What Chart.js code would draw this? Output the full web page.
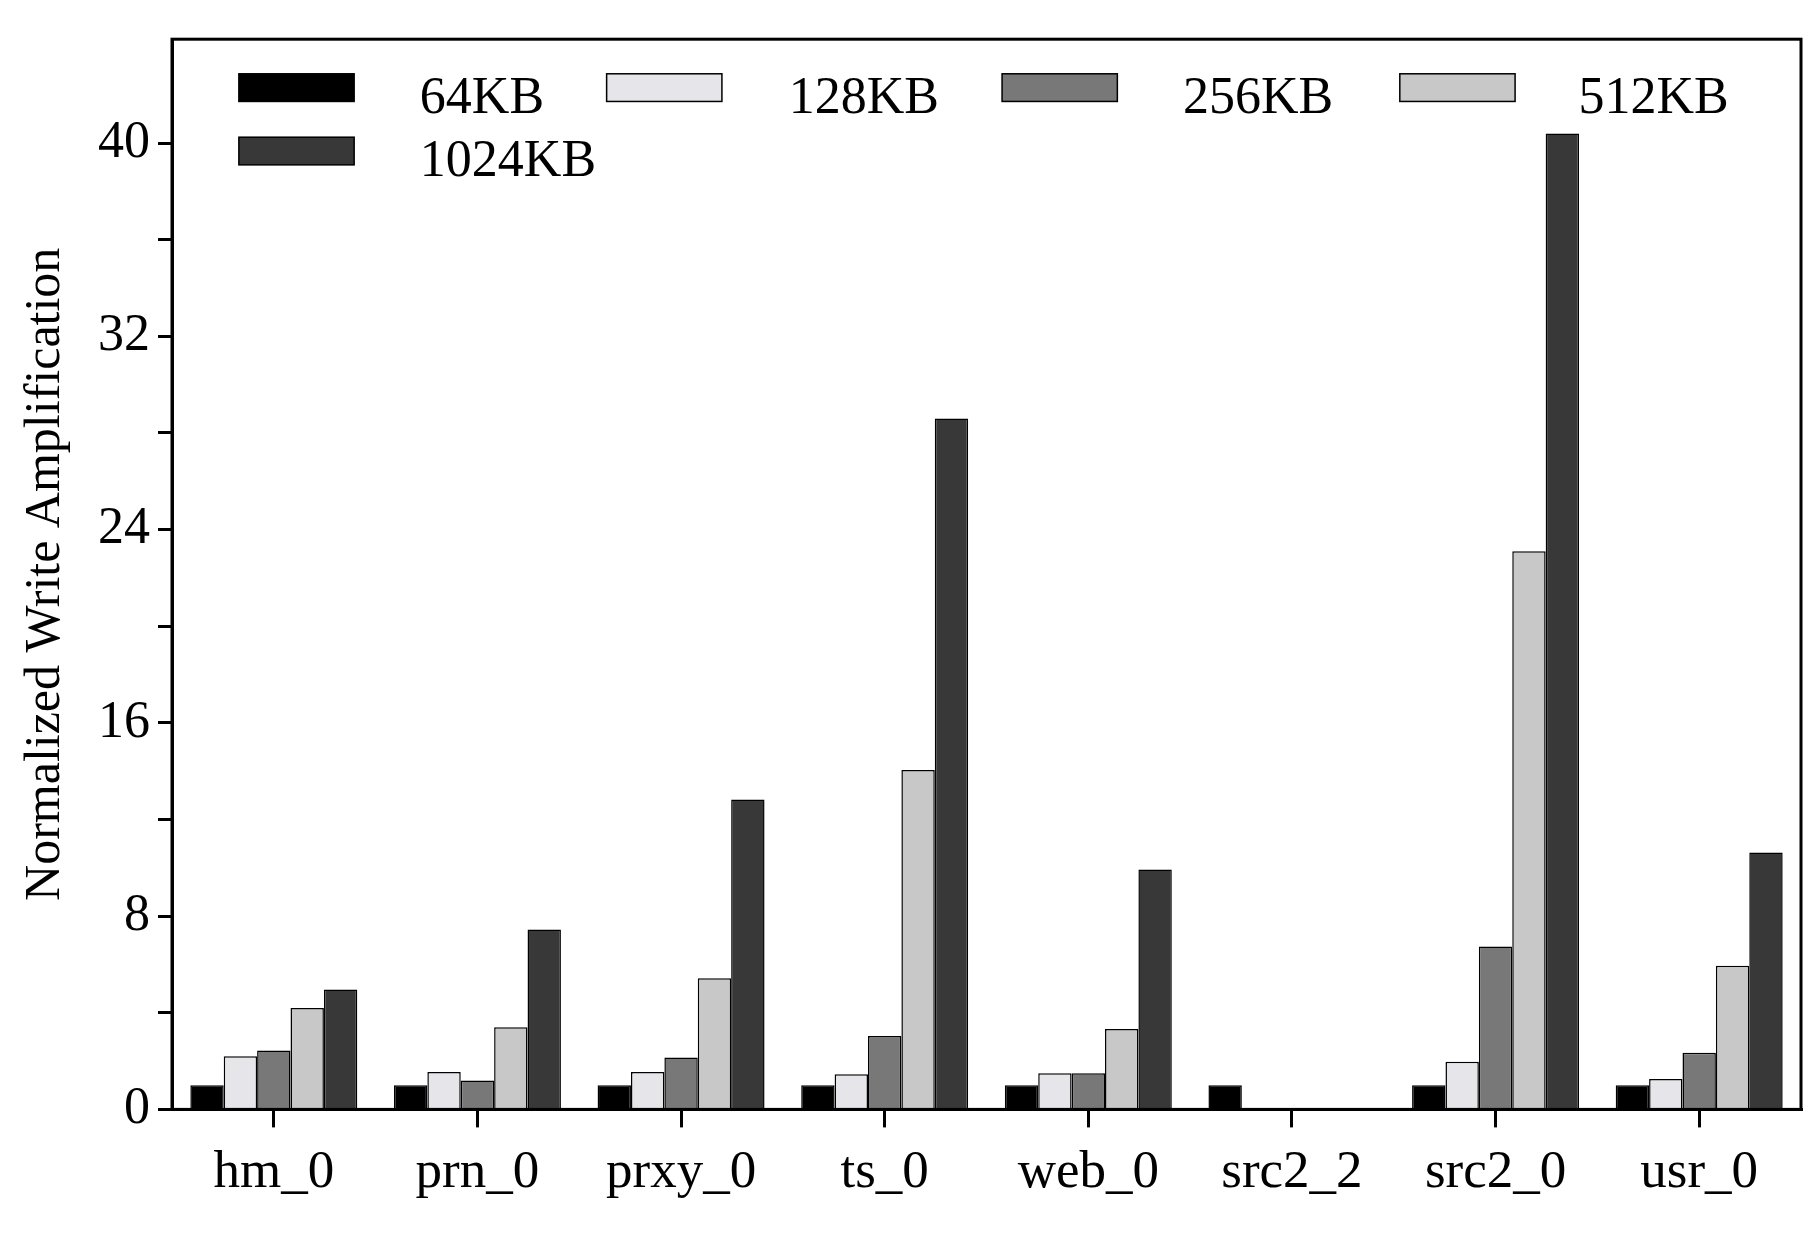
<!DOCTYPE html>
<html>
<head>
<meta charset="utf-8">
<script src="https://cdn.jsdelivr.net/npm/chart.js@4/dist/chart.umd.min.js"></script>
<style>
  html, body { margin: 0; padding: 0; background: #fff; }
  #wrap { width: 1817px; height: 1239px; }
</style>
</head>
<body>
<div id="wrap"><canvas id="c"></canvas></div>
<script>
// workloads and series
const categories = ["hm_0", "prn_0", "prxy_0", "ts_0", "web_0", "src2_2", "src2_0", "usr_0"];
const seriesNames = ["64KB", "128KB", "256KB", "512KB", "1024KB"];
const seriesColors = ["#000000", "#e6e6ea", "#787878", "#c8c8c8", "#383838"];
const v64 = [1, 1, 1, 1, 1, 1, 1, 1];
const v128 = [2.2, 1.55, 1.55, 1.45, 1.5, 0.05, 1.97, 1.26];
const v256 = [2.44, 1.2, 2.15, 3.04, 1.5, 0.03, 6.74, 2.34];
const v512 = [4.2, 3.4, 5.43, 14.05, 3.33, 0.03, 23.1, 5.95];
const v1024 = [4.96, 7.45, 12.83, 28.6, 9.93, 0.05, 40.4, 10.63];
const allValues = [v64, v128, v256, v512, v1024];
const yTickStep = 4;
const yLabelStep = 8;

const serif = "'Liberation Serif', 'Times New Roman', serif";

// legend drawn inside the plot box, two rows
const legendInside = {
    id: "legendInside",
    afterDraw(chart) {
        const { ctx, chartArea } = chart;
        const s = (chartArea.right - chartArea.left) / 1413;
        const x0 = chartArea.left, y0 = chartArea.top;
        const spots = [
            [58, 30, 215], [377, 30, 535], [720, 30, 877], [1065, 30, 1220], [58, 85, 215]
        ];
        ctx.save();
        ctx.font = "52px " + serif;
        ctx.textBaseline = "middle";
        spots.forEach((p, i) => {
            const bx = x0 + p[0] * s, by = y0 + p[1] * s;
            ctx.fillStyle = seriesColors[i];
            ctx.strokeStyle = "#000";
            ctx.lineWidth = 1.5;
            ctx.fillRect(bx, by, 100 * s, 24 * s);
            ctx.strokeRect(bx, by, 100 * s, 24 * s);
            ctx.fillStyle = "#000";
            ctx.fillText(seriesNames[i], x0 + p[2] * s, by + 22 * s);
        });
        // frame around plot
        ctx.strokeStyle = "#000";
        ctx.lineWidth = 3;
        ctx.strokeRect(chartArea.left, chartArea.top, chartArea.right - chartArea.left, chartArea.bottom - chartArea.top);
        ctx.restore();
    }
};

new Chart(document.getElementById("c"), {
    type: "bar",
    data: {
        labels: categories,
        datasets: seriesNames.map((name, i) => ({
            label: name,
            data: allValues[i],
            backgroundColor: seriesColors[i],
            borderColor: "#000",
            borderWidth: 1.5,
            categoryPercentage: 0.82,
            barPercentage: 1.0
        }))
    },
    options: {
        responsive: true,
        maintainAspectRatio: false,
        animation: false,
        layout: { padding: { top: 21, right: 16, bottom: 20, left: 12 } },
        plugins: { legend: { display: false }, tooltip: { enabled: false } },
        scales: {
            x: {
                grid: { drawOnChartArea: false, color: "#000", lineWidth: 3, tickLength: 18, offset: false },
                border: { color: "#000", width: 3 },
                ticks: { color: "#000", font: { family: serif, size: 53 }, padding: 14, maxRotation: 0 }
            },
            y: {
                min: 0,
                max: 44.3,
                afterBuildTicks(axis) {
                    const t = [];
                    for (let v = 0; v <= 40; v += yTickStep) t.push({ value: v });
                    axis.ticks = t;
                },
                grid: { drawOnChartArea: false, color: "#000", lineWidth: 3, tickLength: 14 },
                border: { color: "#000", width: 3 },
                ticks: {
                    color: "#000",
                    font: { family: serif, size: 52 },
                    padding: 8,
                    callback: v => (v % yLabelStep === 0 ? v : "")
                },
                title: {
                    display: true,
                    text: "Normalized Write Amplification",
                    color: "#000",
                    font: { family: serif, size: 50 },
                    padding: { bottom: 14 }
                }
            }
        }
    },
    plugins: [legendInside]
});
</script>
</body>
</html>
